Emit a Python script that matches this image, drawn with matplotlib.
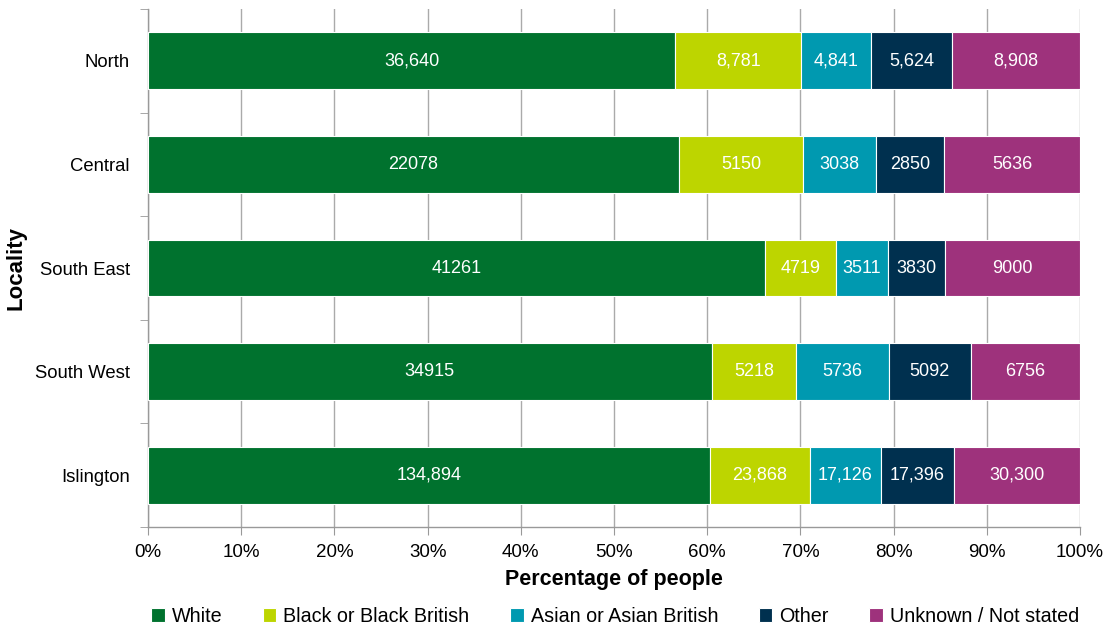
import matplotlib
matplotlib.use("Agg")
import matplotlib.pyplot as plt
import numpy as np

plt.rcParams['font.family'] = ['Liberation Sans', 'DejaVu Sans']

localities = ["North", "Central", "South East", "South West", "Islington"]
series_names = ["White", "Black or Black British", "Asian or Asian British", "Other", "Unknown / Not stated"]
white = [36640, 22078, 41261, 34915, 134894]
black = [8781, 5150, 4719, 5218, 23868]
asian = [4841, 3038, 3511, 5736, 17126]
other = [5624, 2850, 3830, 5092, 17396]
unknown = [8908, 5636, 9000, 6756, 30300]
use_commas = [True, False, False, False, True]
colors = ["#00722E", "#BDD500", "#0099B0", "#00304F", "#9E327C"]
xticklabels = ["0%", "10%", "20%", "30%", "40%", "50%", "60%", "70%", "80%", "90%", "100%"]

data = np.array([white, black, asian, other, unknown], dtype=float)
totals = data.sum(axis=0)
pct = data / totals * 100

fig = plt.figure(figsize=(11.12, 6.3), dpi=100)
ax = fig.add_axes([0.1331, 0.1635, 0.8381, 0.8222])

y = np.arange(len(localities))
left = np.zeros(len(localities))
for i, name in enumerate(series_names):
    ax.barh(y, pct[i], left=left, height=0.55, color=colors[i],
            edgecolor="white", linewidth=0.8, label=name, zorder=3)
    for j in range(len(localities)):
        v = int(data[i, j])
        txt = f"{v:,}" if use_commas[j] else f"{v}"
        ax.text(left[j] + pct[i, j] / 2, y[j], txt, ha="center", va="center",
                color="white", fontsize=13, zorder=4)
    left += pct[i]

ax.set_xlim(0, 100)
ax.set_ylim(len(localities) - 0.5, -0.5)
ax.set_xticks(np.arange(0, 101, 10))
ax.set_xticklabels(xticklabels, fontsize=13.5)
ax.set_yticks(y)
ax.set_yticklabels(localities, fontsize=13.3)
ax.set_yticks(np.arange(-0.5, len(localities), 1), minor=True)
ax.tick_params(axis="y", which="major", length=0, pad=13)
ax.tick_params(axis="y", which="minor", length=6, color="#999999", direction="out")
ax.tick_params(axis="x", which="major", length=6, color="#999999", direction="out", pad=6)
ax.xaxis.grid(True, color="#AAAAAA", linewidth=1, zorder=0)
ax.set_axisbelow(True)
for s in ["top", "right"]:
    ax.spines[s].set_visible(False)
for s in ["left", "bottom"]:
    ax.spines[s].set_color("#999999")
    ax.spines[s].set_linewidth(1)

ax.set_xlabel("Percentage of people", fontsize=15.5, fontweight="bold", labelpad=6)
ax.set_ylabel("Locality", fontsize=16, fontweight="bold", labelpad=6)

handles, labels = ax.get_legend_handles_labels()
fig.legend(handles, labels, loc="center", bbox_to_anchor=(0.553, 0.022), ncol=5,
           frameon=False, fontsize=14.2, handlelength=0.7, handleheight=0.7,
           handletextpad=0.35, columnspacing=2.05)

fig.savefig("out.png", dpi=100)
